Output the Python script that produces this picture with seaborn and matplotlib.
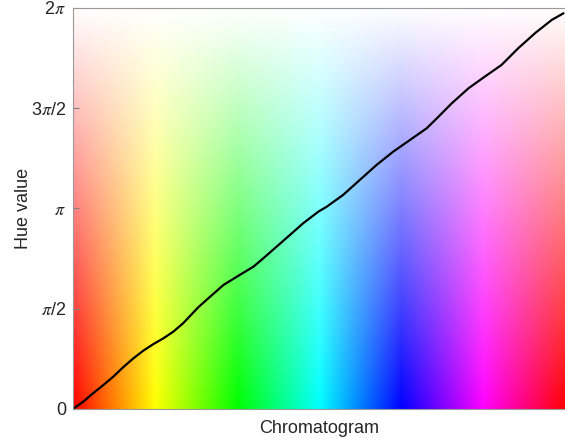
import numpy as np
import pandas as pd
import seaborn as sns
import matplotlib.pyplot as plt
from matplotlib.colors import hsv_to_rgb

# position along the chromatogram (0..1) and hue value (radians)
position = [0.0, 0.021, 0.041, 0.062, 0.082, 0.102, 0.123, 0.143, 0.163, 0.184,
            0.204, 0.224, 0.255, 0.279, 0.306, 0.339, 0.367, 0.387, 0.414, 0.441,
            0.468, 0.499, 0.516, 0.549, 0.583, 0.617, 0.651, 0.685, 0.719, 0.743,
            0.770, 0.804, 0.837, 0.871, 0.905, 0.939, 0.973, 0.997]
hue_value = [0.0, 0.114, 0.246, 0.376, 0.506, 0.653, 0.794, 0.913, 1.014, 1.108,
             1.211, 1.343, 1.595, 1.760, 1.943, 2.100, 2.230, 2.361, 2.543, 2.726,
             2.910, 3.092, 3.170, 3.353, 3.588, 3.823, 4.032, 4.215, 4.398, 4.580,
             4.790, 5.025, 5.207, 5.390, 5.652, 5.887, 6.095, 6.200]

tick_vals = [0, np.pi / 2, np.pi, 3 * np.pi / 2, 2 * np.pi]
tick_labels = ['0', r'$\pi$/2', r'$\pi$', r'3$\pi$/2', r'2$\pi$']

sns.set_style('white')
plt.rcParams['font.family'] = ['Liberation Sans', 'DejaVu Sans']
plt.rcParams['mathtext.fontset'] = 'stix'

fig = plt.figure(figsize=(5.65, 4.41), dpi=100)
ax = fig.add_axes([0.129, 0.0726, 0.871, 0.9094])

# background: hue along x, saturation fading to white upward
nx, ny = 600, 400
h = np.tile(np.linspace(0, 1, nx), (ny, 1))
s = np.tile(np.linspace(1, 0, ny)[:, None], (1, nx))
v = np.ones_like(h)
rgb = hsv_to_rgb(np.dstack([h, s, v]))
ax.imshow(rgb, extent=[0, 1, 0, 2 * np.pi], origin='lower', aspect='auto', zorder=0)

df = pd.DataFrame({'position': position, 'hue': hue_value})
sns.lineplot(data=df, x='position', y='hue', color='black', linewidth=1.6, ax=ax, zorder=2)

ax.set_xlim(0, 1)
ax.set_ylim(0, 2 * np.pi)
ax.set_xticks([])
ax.set_yticks(tick_vals)
ax.set_yticklabels(tick_labels, fontsize=13, color='#262626')
ax.tick_params(axis='y', direction='in', length=4, color='#808080', left=True, pad=5)
ax.set_xlabel('Chromatogram', fontsize=13, color='#262626', labelpad=8)
ax.set_ylabel('Hue value', fontsize=13, color='#262626', labelpad=-1)

for side in ['left', 'bottom', 'top']:
    ax.spines[side].set_color('#999999')
    ax.spines[side].set_linewidth(0.8)
ax.spines['right'].set_visible(False)

fig.savefig('out.png', dpi=100)
